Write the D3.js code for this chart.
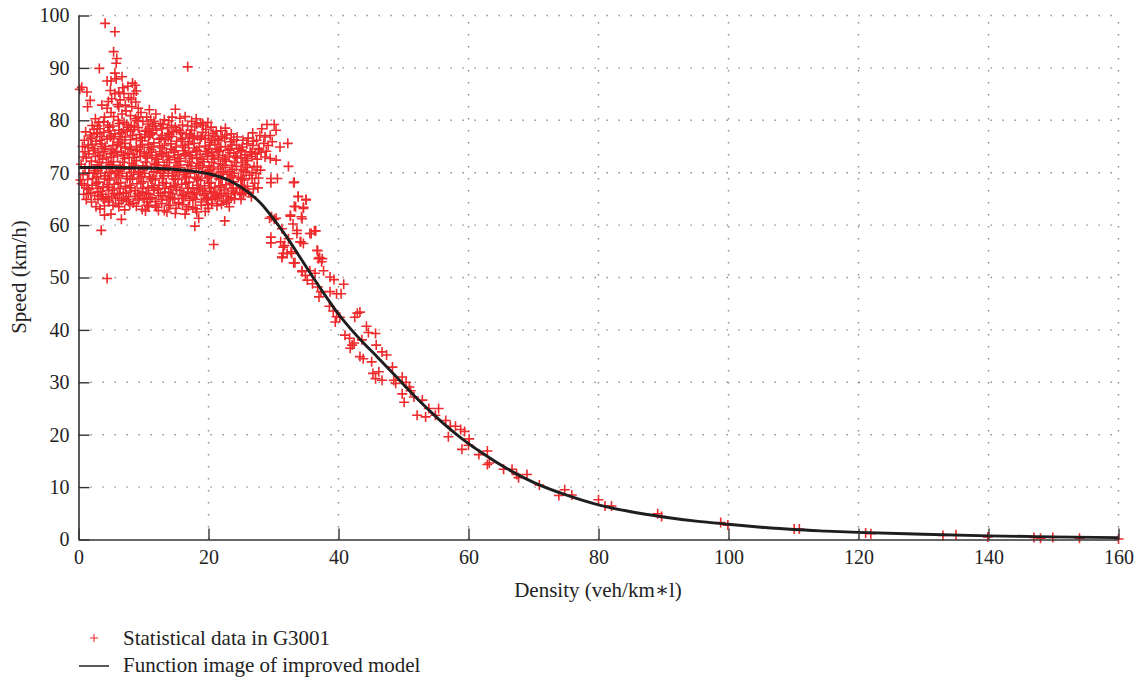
<!DOCTYPE html>
<html><head><meta charset="utf-8">
<script src="https://cdn.jsdelivr.net/npm/d3@7"></script>
<style>body{margin:0;background:#fff}svg{display:block}svg text{font-family:'Liberation Serif','DejaVu Serif',serif !important;fill:#222}</style>
</head><body><svg id="c" width="1139" height="680"></svg>
<script>
const xTicks=[0,20,40,60,80,100,120,140,160];
const yTicks=[0,10,20,30,40,50,60,70,80,90,100];
const xLabel="Density (veh/km∗l)";
const yLabel="Speed (km/h)";
const legendLabels=["Statistical data in G3001","Function image of improved model"];

// model curve [density, speed]
const curveDensity=[0,5,10,15,18,20,22,24,26,28,30,32,34,36,38,40,42,44,46,48,50,52,54,56,58,60,62,65,70,75,80,85,90,95,100,105,110,115,120,130,140,150,160];
const curveSpeed=[71.0,71.0,70.9,70.6,70.2,69.8,69.1,68.0,66.4,64.2,61.2,57.8,54.0,50.2,46.5,43.0,40.0,37.3,34.8,32.2,29.6,27.0,24.6,22.3,20.2,18.3,16.6,14.2,10.9,8.5,6.6,5.3,4.3,3.5,2.9,2.35,1.9,1.6,1.35,1.0,0.7,0.5,0.35];

// scattered observations [density, speed]
const plumePoints=[[4.1,98.5],[5.6,96.9],[5.4,93.1],[5.9,91.8],[5.8,90.9],[3.2,89.9],[16.8,90.2],[5.6,89.0],[6.7,88.3],[4.4,87.5],[5.0,87.5],[8.3,87.1],[8.7,86.7],[0.5,86.3],[0.2,85.9],[1.3,85.4],[4.9,85.7],[5.6,85.1],[6.2,85.4],[7.0,85.1],[8.5,85.1],[1.8,83.8],[5.1,84.1],[6.4,83.9],[7.7,84.3],[8.8,83.5],[1.4,82.6],[3.6,82.9],[4.4,82.3],[6.2,82.6],[7.2,82.9],[8.2,82.6],[9.2,82.3],[14.9,82.1],[2.6,80.3],[4.0,80.6],[5.4,80.7],[6.7,81.2],[8.0,80.9],[9.2,80.6],[10.5,80.6],[11.9,81.2],[13.2,80.1],[14.4,80.6],[16.4,80.7],[18.1,80.3],[19.2,79.0],[2.1,79.0],[3.3,78.4],[2.0,76.8],[2.8,77.4],[4.9,76.8],[6.2,78.1],[7.7,78.7],[10.4,78.1],[11.4,77.4],[12.8,78.4],[15.1,78.1],[17.2,77.4],[20.0,77.1],[1.5,75.3],[1.0,74.0],[5.0,81.5],[6.0,83.0],[7.3,81.8],[8.1,84.0],[6.8,86.2],[5.8,87.9],[7.6,86.5],[8.9,85.6],[4.6,83.6],[9.6,81.5],[10.9,82.0],[11.6,79.8],[7.0,79.6],[9.0,79.9],[5.3,78.9],[3.9,79.7]];

const corePoints=[[3.1,79.6],[7.4,79.2],[9.9,79.8],[12.6,79.4],[16.0,79.1],[18.8,79.5],[14.3,79.0],[10.7,79.3],
[2.4,78.3],[4.8,78.7],[6.9,78.2],[8.6,78.9],[10.9,78.4],[13.7,78.6],[15.5,78.1],[17.9,78.8],[19.6,78.3],[21.9,78.0],[11.8,78.9],[8.0,77.9],
[1.8,77.2],[3.9,77.7],[5.6,77.4],[7.5,77.9],[9.4,77.3],[11.2,77.6],[12.9,77.1],[14.6,77.8],[16.6,77.4],[18.3,77.0],[20.7,77.5],[22.8,77.2],[6.4,76.9],[10.2,76.8],[13.8,76.7],[17.5,76.6],[21.4,76.4],
[0.9,76.2],[2.7,76.0],[4.4,76.4],[6.2,75.8],[8.0,76.3],[9.8,76.1],[11.6,75.7],[13.4,76.3],[15.1,76.0],[16.9,75.9],[18.7,76.4],[20.2,75.8],[21.6,76.1],[23.4,75.9],[25.3,76.2],[26.9,76.0],[3.5,75.5],[5.3,75.2],[7.1,75.6],[8.9,75.0],[10.7,75.4],[12.5,75.1],[14.2,75.5],[16.0,75.2],[17.8,75.6],[19.5,75.1],[21.0,75.4],[22.6,75.0],[24.3,75.3],[25.9,75.5],
[1.5,74.8],[2.3,74.2],[4.0,74.6],[5.8,74.1],[7.2,74.7],[9.0,74.3],[10.8,74.8],[12.5,74.0],[14.3,74.5],[16.1,74.2],[17.8,74.7],[19.6,74.1],[21.3,74.5],[23.0,74.3],[24.7,74.6],[26.4,74.0],[27.8,74.4],[3.0,73.8],[4.9,73.6],[6.6,73.9],[8.4,73.5],[10.1,73.7],[11.9,73.3],[13.5,73.8],[15.3,73.4],[17.0,73.9],[18.7,73.5],[20.5,73.8],[22.2,73.3],[23.9,73.7],[25.6,73.4],[27.2,73.6],
[1.2,72.8],[2.0,72.2],[3.7,72.6],[5.4,72.1],[7.1,72.7],[8.9,72.3],[10.6,72.8],[12.3,72.0],[14.0,72.5],[15.7,72.2],[17.5,72.7],[19.3,72.1],[20.9,72.6],[22.7,72.2],[24.4,72.8],[26.0,72.3],[27.5,72.6],[0.4,71.6],[2.9,71.5],[4.6,71.9],[6.4,71.4],[8.2,71.8],[9.9,71.3],[11.7,71.7],[13.2,71.4],[15.0,71.9],[16.8,71.5],[18.4,71.8],[20.1,71.3],[21.8,71.7],[23.6,71.4],[25.2,71.9],[27.0,71.2],
[1.0,70.9],[2.6,70.4],[4.3,70.8],[6.0,70.3],[7.8,70.7],[9.5,70.2],[11.2,70.9],[13.0,70.4],[14.7,70.6],[16.4,70.1],[18.1,70.8],[19.9,70.3],[21.5,70.7],[23.3,70.2],[25.0,70.6],[26.7,70.0],[28.0,70.5],[0.7,69.6],[2.4,69.9],[4.1,69.4],[5.7,69.8],[7.4,69.3],[9.2,69.7],[10.9,69.2],[12.6,69.9],[14.4,69.4],[16.2,69.6],[17.9,69.1],[19.5,69.8],[21.2,69.3],[22.9,69.7],[24.6,69.1],[26.3,69.5],[27.7,69.0],
[1.4,68.7],[3.1,68.2],[4.8,68.6],[6.5,68.1],[8.3,68.8],[10.0,68.3],[11.8,68.6],[13.5,68.0],[15.3,68.7],[17.0,68.2],[18.8,68.5],[20.4,68.1],[22.1,68.8],[23.8,68.3],[25.5,68.6],[27.1,68.0],[0.5,67.9],[2.1,67.6],[3.8,67.3],[5.5,67.8],[7.2,67.4],[9.0,67.9],[10.7,67.2],[12.4,67.6],[14.2,67.3],[15.9,67.8],[17.6,67.1],[19.4,67.5],[21.0,67.2],[22.7,67.7],[24.3,67.0],[26.0,67.4],[27.6,67.1],
[1.6,66.8],[3.4,66.4],[5.2,66.7],[6.9,66.2],[8.7,66.6],[10.4,66.1],[12.2,66.8],[13.9,66.3],[15.6,66.6],[17.3,66.0],[19.1,66.5],[20.8,66.2],[22.4,66.7],[24.1,66.1],[25.7,66.4],[0.8,65.9],[2.5,65.6],[4.2,65.3],[6.0,65.8],[7.7,65.4],[9.5,65.7],[11.3,65.2],[13.0,65.6],[14.8,65.1],[16.5,65.5],[18.2,65.9],[19.9,65.3],[21.7,65.6],[23.5,65.2],[25.1,65.8],[26.6,65.4],
[3.0,64.9],[4.7,64.4],[6.6,64.7],[8.4,64.2],[10.1,64.9],[11.9,64.5],[13.6,64.8],[15.4,64.3],[17.1,64.7],[18.9,64.4],[20.6,64.9],[22.3,64.6],[24.0,65.0],[5.3,63.8],[8.9,63.6],[12.0,63.4],[15.0,63.2],[18.0,63.1],[21.3,63.7],[7.1,62.9],[9.8,63.0],[13.2,62.8],[16.6,63.0],[19.5,62.6],[22.0,64.0],[23.2,63.5]];

const coreFillPoints=[[6.1,80.0],[8.8,80.3],[11.1,80.1],[13.9,79.9],[15.6,80.4],[17.4,79.8],[19.9,79.6],
[2.9,78.9],[4.5,79.1],[6.3,79.4],[8.1,79.0],[9.2,78.6],[11.4,78.8],[13.0,79.2],[14.9,78.7],[16.8,78.9],[18.2,79.3],[20.4,78.7],[22.6,78.5],
[1.1,77.8],[2.9,77.6],[4.7,78.0],[6.6,77.6],[8.5,78.2],[10.3,77.9],[12.0,78.1],[13.9,77.5],[15.7,77.7],[17.4,78.1],[19.1,77.7],[21.2,77.9],[23.5,77.4],
[1.9,76.5],[3.6,76.9],[5.4,76.5],[7.2,76.8],[8.9,76.5],[10.8,76.9],[12.4,76.4],[14.3,76.9],[16.0,76.6],[17.8,76.9],[19.5,76.5],[21.0,76.9],[22.5,76.6],[24.4,76.8],[26.1,76.6],
[0.6,75.0],[2.1,75.4],[4.1,75.0],[6.0,75.4],[7.9,74.9],[9.8,75.3],[11.5,74.9],[13.2,75.2],[15.0,74.9],[16.9,75.4],[18.6,74.9],[20.2,75.3],[21.9,74.9],[23.6,75.3],[25.2,74.9],[26.8,75.2],
[1.6,73.6],[3.9,74.0],[5.5,73.8],[7.6,73.7],[9.4,74.0],[11.0,73.9],[12.8,73.6],[14.7,73.9],[16.4,73.6],[18.1,74.0],[19.8,73.7],[21.6,74.0],[23.3,73.8],[25.0,74.0],[26.6,73.8],[28.1,73.9],
[0.7,73.0],[2.6,73.1],[4.3,72.9],[6.0,73.2],[7.8,72.9],[9.5,73.1],[11.3,72.9],[13.0,73.1],[14.8,72.9],[16.5,73.2],[18.2,72.9],[19.9,73.1],[21.5,72.9],[23.2,73.0],[25.0,72.9],[26.7,73.1],
[1.7,71.1],[3.5,71.2],[5.2,71.0],[7.0,71.1],[8.7,71.0],[10.5,71.2],[12.1,71.0],[14.0,71.1],[15.6,71.0],[17.3,71.2],[19.1,71.0],[20.8,71.1],[22.6,71.0],[24.3,71.2],[26.0,71.0],[27.5,71.1],
[1.6,70.0],[3.4,69.9],[5.0,70.1],[6.7,69.9],[8.5,70.0],[10.2,69.9],[12.0,70.1],[13.8,69.9],[15.5,70.0],[17.2,69.9],[19.0,70.1],[20.6,69.9],[22.3,70.0],[24.0,69.9],[25.8,70.1],[27.3,69.9],
[0.3,68.6],[2.2,68.9],[4.0,68.8],[5.8,69.0],[7.5,68.9],[9.3,69.0],[11.1,68.8],[12.9,68.9],[14.6,68.8],[16.4,69.0],[18.2,68.9],[19.8,69.0],[21.6,68.8],[23.3,69.0],[25.0,68.8],[26.7,68.9],
[1.3,67.1],[3.0,67.0],[4.7,67.2],[6.4,67.0],[8.1,67.1],[9.9,67.0],[11.6,67.1],[13.3,67.0],[15.0,67.2],[16.8,67.0],[18.5,67.1],[20.2,67.0],[21.9,67.2],[23.6,67.0],[25.2,67.2],[26.9,66.9],
[1.9,66.1],[3.7,65.9],[5.5,66.0],[7.3,66.1],[9.1,66.0],[10.8,65.9],[12.6,66.1],[14.4,66.0],[16.1,65.9],[17.8,66.2],[19.6,66.0],[21.3,65.9],[23.0,66.0],[24.8,66.1],[26.2,66.2],
[1.2,64.9],[3.8,65.0],[5.7,65.1],[7.4,64.9],[9.3,65.1],[11.0,65.0],[12.8,64.9],[14.5,65.0],[16.2,65.1],[18.0,64.9],[19.7,65.0],[21.4,65.1],[23.1,64.8],[25.0,64.9],
[4.0,63.7],[6.2,63.5],[7.9,63.9],[10.6,63.8],[13.9,63.7],[16.0,63.9],[17.6,63.4],[19.9,63.9],[22.8,64.3]];

const coreDensePoints=[[3.3,76.2],[5.0,77.0],[6.7,76.3],[8.3,77.1],[9.6,76.6],[11.0,77.2],[12.7,76.6],[14.0,77.3],[15.8,76.3],[17.1,77.0],[18.9,76.8],[20.5,76.2],[22.1,76.9],[23.9,76.3],
[2.5,74.6],[3.6,75.0],[5.0,74.4],[6.5,75.0],[8.1,74.5],[9.5,74.9],[11.2,74.4],[12.9,74.7],[14.7,74.2],[16.4,74.8],[18.2,74.3],[20.0,74.6],[21.7,74.2],[23.4,74.6],[25.1,74.3],
[3.3,73.3],[5.1,73.0],[6.9,73.4],[8.6,72.9],[10.4,73.3],[12.1,72.6],[13.8,73.2],[15.6,72.7],[17.3,73.3],[19.0,72.6],[20.7,73.3],[22.5,72.6],[24.2,73.2],[25.9,72.7],
[3.2,72.0],[4.9,71.5],[6.8,72.0],[8.5,71.4],[10.3,72.0],[11.9,71.5],[13.6,72.0],[15.3,71.4],[17.1,72.0],[18.7,71.4],[20.5,72.0],[22.2,71.4],[24.0,72.0],[25.7,71.5],
[3.0,70.4],[4.7,70.0],[6.4,70.6],[8.1,70.1],[9.9,70.6],[11.6,70.2],[13.3,70.7],[15.1,70.2],[16.8,70.6],[18.5,70.1],[20.3,70.6],[21.9,70.2],[23.7,70.6],[25.4,70.3],
[2.8,69.2],[4.5,68.9],[6.2,69.4],[7.9,68.7],[9.7,69.3],[11.4,68.9],[13.1,69.4],[14.9,68.8],[16.6,69.3],[18.4,68.7],[20.1,69.3],[21.9,68.9],[23.6,69.4],[25.2,68.9],
[2.7,67.9],[4.4,67.7],[6.1,68.0],[7.9,67.6],[9.6,68.0],[11.3,67.5],[13.0,68.1],[14.7,67.6],[16.5,68.0],[18.2,67.6],[20.0,68.0],[21.6,67.5],[23.3,68.0],[25.0,67.6],
[2.9,66.3],[4.6,66.6],[6.3,66.0],[8.0,66.5],[9.8,66.3],[11.6,66.6],[13.3,66.2],[15.1,66.7],[16.9,66.3],[18.7,66.7],[20.4,66.4],[22.0,66.0],[23.8,66.5],[25.4,66.0],
[3.5,65.4],[5.1,65.5],[6.9,65.1],[8.7,65.5],[10.5,65.2],[12.3,65.6],[14.1,65.3],[15.9,65.6],[17.6,65.2],[19.3,65.6],[21.0,65.3],[22.7,65.5]];

const lowerPoints=[[0.9,67.6],[1.5,66.0],[2.0,64.4],[2.7,63.5],[3.3,63.1],[4.0,61.9],[5.0,62.1],[6.6,61.1],[10.3,62.7],[10.8,63.5],[12.3,62.8],[13.6,62.5],[14.9,62.2],[16.4,62.1],[18.5,61.3],[18.2,62.5],[20.0,63.2],[20.5,64.1],[3.5,59.0],[17.9,59.8],[20.8,56.3],[4.4,49.8],[4.6,64.8],[6.2,64.1],[7.7,64.5],[9.2,64.8],[10.5,64.4],[11.8,63.8],[12.8,64.1],[14.1,63.8],[15.4,64.1],[16.9,63.5],[18.9,63.8],[19.7,64.8],[22.5,60.8]];

const clusterPoints=[[29.0,79.2],[30.1,79.2],[30.4,78.1],[19.1,79.4],[27.9,77.1],[28.7,76.8],[29.5,77.1],[27.4,76.2],[28.5,75.6],[29.2,75.2],[29.8,75.9],[31.0,74.9],[32.2,75.6],[27.7,74.6],[28.7,73.0],[29.5,72.7],[30.4,72.4],[32.3,71.2],[29.6,68.9],[30.6,68.9],[33.2,68.2],[33.8,65.4],[35.0,64.9],[33.4,63.5],[34.6,63.2],[32.6,61.7],[34.4,61.2],[29.7,61.6],[30.4,61.3],[29.6,57.7],[35.8,58.4],[36.5,58.9],[31.1,56.8],[32.3,57.4],[33.6,58.4],[31.5,55.8],[32.1,54.6],[31.3,53.9],[32.8,54.6],[34.1,56.8],[34.6,56.5],[33.3,52.8],[36.7,55.2],[36.9,53.6],[37.5,53.6],[34.4,51.1],[28.2,78.4],[26.8,77.6],[28.9,74.1]];

const transitionPoints=[[29.6,68.1],[33.1,68.1],[33.8,65.5],[35.0,64.8],[33.2,63.6],[34.6,63.4],[34.3,61.6],[32.6,61.9],[29.4,61.3],[30.1,61.1],[31.3,59.3],[33.0,60.2],[33.6,59.0],[36.3,58.9],[35.6,58.4],[34.2,56.8],[31.7,56.1],[29.6,56.6],[32.7,54.9],[31.3,53.8],[31.5,54.6],[33.1,52.8],[36.8,55.1],[37.1,53.8],[37.4,53.0],[34.4,51.3],[34.9,50.4],[35.6,51.3],[36.4,50.8],[37.7,51.3],[38.7,50.1],[39.3,49.6],[40.8,48.7],[35.2,49.5],[36.0,48.8],[36.8,48.2],[37.3,47.3],[37.0,46.3],[38.7,47.3],[39.7,46.9],[40.4,46.9],[38.6,44.5],[39.2,43.6],[39.7,42.5],[40.2,42.4],[39.5,41.5],[42.5,42.4],[42.9,43.2],[43.3,43.4],[41.0,39.0],[41.7,38.4],[42.1,37.1],[41.8,36.5],[42.4,37.5],[43.6,38.1],[44.3,40.7],[44.6,39.5],[45.7,39.3],[43.3,34.9],[43.8,34.5],[45.1,33.9],[45.8,37.1],[46.7,35.8],[47.4,35.2],[45.3,31.7],[45.7,30.7],[46.2,32.0],[46.7,30.4],[48.3,32.9],[48.5,30.4],[48.8,29.8],[49.8,31.0],[50.4,30.0],[50.9,29.1],[49.8,27.8],[50.1,26.2],[51.1,28.4],[51.6,27.2],[52.9,26.6],[52.1,23.7],[53.4,23.4],[53.9,25.0],[55.4,25.0],[54.9,23.7],[56.5,22.7],[57.2,21.6],[58.0,21.6],[58.8,21.0],[56.9,19.6],[60.1,19.2],[59.4,20.6],[59.0,17.2],[60.0,18.0]];

const tailPoints=[[61.6,16.2],[62.9,16.9],[62.9,14.3],[63.2,14.6],[65.4,13.4],[66.7,13.4],[67.4,12.4],[67.7,11.8],[69.0,12.4],[70.9,10.4],[73.9,8.4],[74.8,9.5],[75.9,8.5],[80.0,7.6],[81.0,6.4],[82.0,6.4],[89.1,4.9],[89.7,4.4],[98.8,3.25],[99.9,2.75],[110.1,2.0],[110.9,2.0],[121.1,1.25],[121.9,1.1],[133.0,0.75],[135.0,0.9],[139.9,0.5],[147.0,0.4],[148.0,0.25],[149.9,0.4],[154.0,0.25],[160.0,0.1]];

const FONT="'Liberation Serif','DejaVu Serif',serif";
const svg=d3.select("#c");
const x=d3.scaleLinear().domain([0,160]).range([78.5,1118.5]);
const y=d3.scaleLinear().domain([0,100]).range([539.5,15.5]);
const red="#ee2a2c";

// grid
const grid=svg.append("g").attr("stroke","#8a8a8a").attr("stroke-width",1.4).attr("stroke-dasharray","1.4,10.6");
grid.selectAll(".h").data(yTicks.filter(d=>d>0)).join("line")
  .attr("x1",x(0)).attr("x2",x(160)).attr("y1",d=>y(d)).attr("y2",d=>y(d));
grid.selectAll(".v").data(xTicks.filter(d=>d>0)).join("line")
  .attr("y1",y(0)).attr("y2",y(100)).attr("x1",d=>x(d)).attr("x2",d=>x(d));

// scatter
const allPoints=[].concat(corePoints,coreFillPoints,coreDensePoints,plumePoints,lowerPoints,clusterPoints,transitionPoints,tailPoints);
const plus="M-5,0H5M0,-5V5";
svg.append("g").selectAll("path").data(allPoints).join("path")
  .attr("d",plus).attr("transform",d=>`translate(${x(d[0])},${y(d[1])})`)
  .attr("stroke",red).attr("stroke-width",1.6).attr("fill","none");

// curve
const curveData=curveDensity.map((d,i)=>[d,curveSpeed[i]]);
svg.append("path").datum(curveData)
  .attr("d",d3.line().x(d=>x(d[0])).y(d=>y(d[1])).curve(d3.curveMonotoneX))
  .attr("fill","none").attr("stroke","#1e1e1e").attr("stroke-width",2.9);

// axes
const ax=svg.append("g").attr("transform",`translate(0,${y(0)})`)
  .call(d3.axisBottom(x).tickValues(xTicks).tickSizeInner(-11).tickSizeOuter(0).tickPadding(10));
const ay=svg.append("g").attr("transform",`translate(${x(0)},0)`)
  .call(d3.axisLeft(y).tickValues(yTicks).tickSizeInner(-11).tickSizeOuter(0).tickPadding(9));
[ax,ay].forEach(g=>{
  g.attr("font-family",null).attr("font-size",null);
  g.select(".domain").attr("stroke","#333").attr("stroke-width",1.6);
  g.selectAll(".tick line").attr("stroke","#333").attr("stroke-width",1.4);
  g.selectAll(".tick text").style("font-family",FONT).style("font-size","20px").attr("fill","#222");
});

svg.append("text").attr("x",598).attr("y",597).attr("text-anchor","middle").style("font-family",FONT).style("font-size","21px").text(xLabel);
svg.append("text").attr("transform","translate(26,277) rotate(-90)").attr("text-anchor","middle").style("font-family",FONT).style("font-size","21px").text(yLabel);

// legend
svg.append("path").attr("d","M-4,0H4M0,-4V4").attr("transform","translate(94,638)").attr("stroke",red).attr("stroke-width",1.1);
svg.append("text").attr("x",123).attr("y",645).style("font-family",FONT).style("font-size","21px").text(legendLabels[0]);
svg.append("line").attr("x1",79).attr("x2",109).attr("y1",666).attr("y2",666).attr("stroke","#222").attr("stroke-width",1.5);
svg.append("text").attr("x",123).attr("y",672).style("font-family",FONT).style("font-size","21px").text(legendLabels[1]);
</script></body></html>
